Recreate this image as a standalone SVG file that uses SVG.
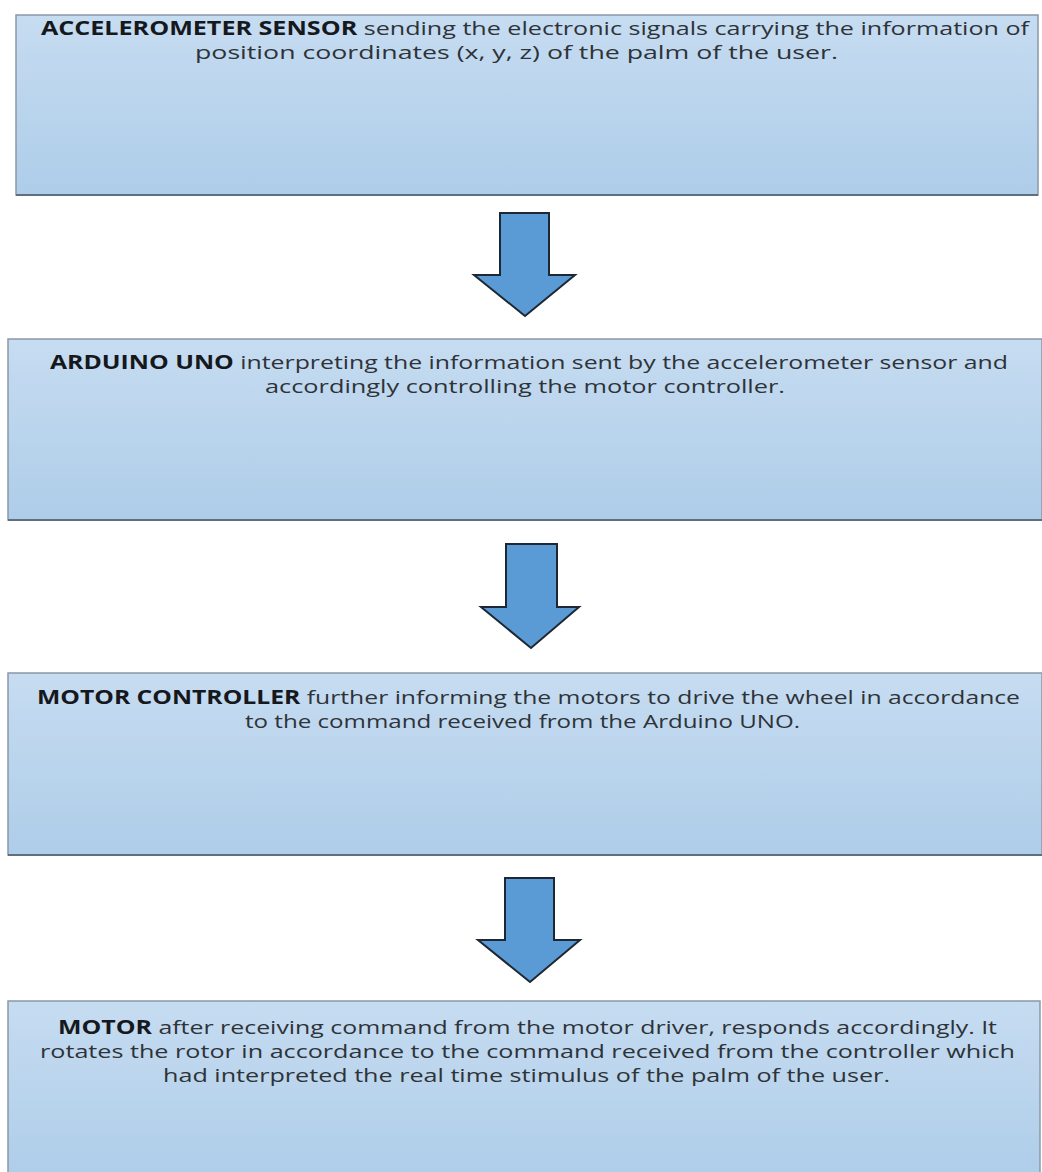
<svg xmlns="http://www.w3.org/2000/svg" width="1042" height="1172" viewBox="0 0 1042 1172">
<defs>
<linearGradient id="boxfill" x1="0" y1="0" x2="0" y2="1">
<stop offset="0" stop-color="#c6dcf1"/>
<stop offset="1" stop-color="#aecde9"/>
</linearGradient>
<style>
.box{fill:url(#boxfill);stroke:#8a98a8;stroke-width:1.5}
.shadow{stroke:#5f6f80;stroke-width:2}
.t{font-family:"Open Sans","Liberation Sans",sans-serif;font-size:19px;fill:#2e3338}
.b{font-weight:bold;fill:#15181c}
.arrow{fill:#5b9bd5;stroke:#1e2834;stroke-width:2;stroke-linejoin:miter}
</style>
</defs>
<rect width="1042" height="1172" fill="#ffffff"/>
<g id="node1">
<rect class="box" x="16" y="15" width="1022" height="180"/>
<line class="shadow" x1="16" y1="195" x2="1038" y2="195"/>
<text class="t" x="41" y="35" textLength="988" lengthAdjust="spacingAndGlyphs"><tspan class="b">ACCELEROMETER SENSOR</tspan> sending the electronic signals carrying the information of</text>
<text class="t" x="195" y="59" textLength="643" lengthAdjust="spacingAndGlyphs">position coordinates (x, y, z) of the palm of the user.</text>
</g>
<g id="node2">
<rect class="box" x="8" y="339" width="1034" height="181"/>
<line class="shadow" x1="8" y1="520" x2="1042" y2="520"/>
<text class="t" x="50" y="369" textLength="958" lengthAdjust="spacingAndGlyphs"><tspan class="b">ARDUINO UNO</tspan> interpreting the information sent by the accelerometer sensor and</text>
<text class="t" x="265" y="393" textLength="520" lengthAdjust="spacingAndGlyphs">accordingly controlling the motor controller.</text>
</g>
<g id="node3">
<rect class="box" x="8" y="673" width="1034" height="182"/>
<line class="shadow" x1="8" y1="855" x2="1042" y2="855"/>
<text class="t" x="37" y="704" textLength="983" lengthAdjust="spacingAndGlyphs"><tspan class="b">MOTOR CONTROLLER</tspan> further informing the motors to drive the wheel in accordance</text>
<text class="t" x="245" y="728" textLength="555" lengthAdjust="spacingAndGlyphs">to the command received from the Arduino UNO.</text>
</g>
<g id="node4">
<rect class="box" x="8" y="1001" width="1032" height="180"/>
<text class="t" x="58" y="1034" textLength="939" lengthAdjust="spacingAndGlyphs"><tspan class="b">MOTOR</tspan> after receiving command from the motor driver, responds accordingly. It</text>
<text class="t" x="40" y="1058" textLength="975" lengthAdjust="spacingAndGlyphs">rotates the rotor in accordance to the command received from the controller which</text>
<text class="t" x="163" y="1082" textLength="727" lengthAdjust="spacingAndGlyphs">had interpreted the real time stimulus of the palm of the user.</text>
</g>
<g id="connectors">
<polygon class="arrow" points="500,213 549,213 549,275 575,275 525,316 474,275 500,275"/>
<polygon class="arrow" points="506,544 557,544 557,607 579,607 531,648 481,607 506,607"/>
<polygon class="arrow" points="505,878 554,878 554,940 580,940 530,982 478,940 505,940"/>
</g>
</svg>
